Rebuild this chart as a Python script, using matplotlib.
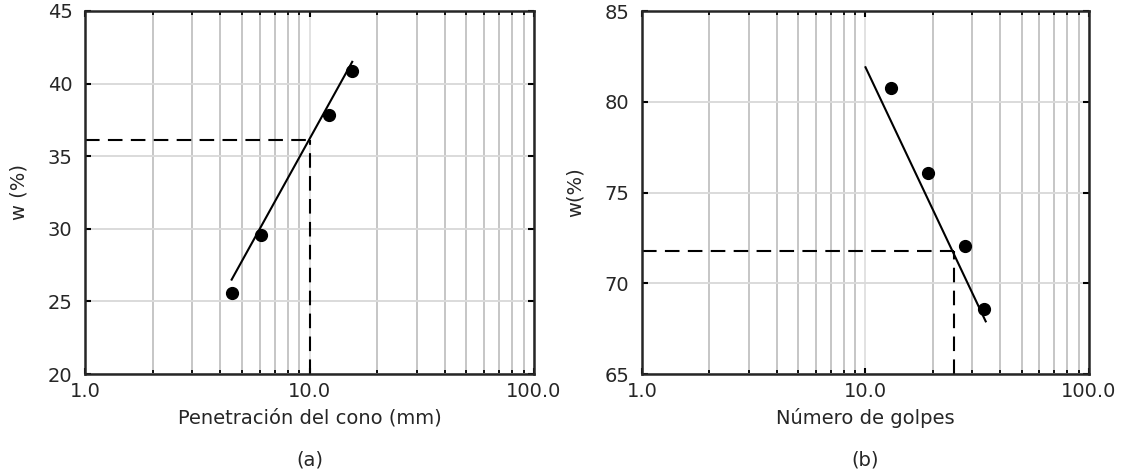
"""Limites de Atterberg: cono (a) y Casagrande (b)"""
import numpy as np
import matplotlib.pyplot as plt
from matplotlib.ticker import FixedLocator, FixedFormatter, LogLocator, NullFormatter

plt.rcParams['font.family'] = ['DejaVu Sans']

# (a) cono
pen_mm = [4.5, 6.1, 12.25, 15.5]
w_cono = [25.6, 29.6, 37.85, 40.85]
fit_a_x = [4.5, 15.5]
fit_a_y = [26.5, 41.5]
ll_a_x = 10.0
ll_a_y = 36.1

# (b) golpes
golpes = [13.0, 19.0, 28.0, 34.0]
w_golpes = [80.75, 76.1, 72.05, 68.6]
fit_b_x = [10.0, 34.5]
fit_b_y = [81.9, 67.9]
ll_b_x = 24.8
ll_b_y = 71.8

xticks = [1, 10, 100]
xtick_labels = ['1.0', '10.0', '100.0']

FS = 14
TXT = '#262626'

fig = plt.figure(figsize=(11.22, 4.73), dpi=100)
ax1 = fig.add_axes([85 / 1122, 1 - 374 / 473, 449 / 1122, 363 / 473])
ax2 = fig.add_axes([642 / 1122, 1 - 374 / 473, 447 / 1122, 363 / 473])


def style(ax, ylim, yticks):
    ax.set_xscale('log')
    ax.set_xlim(1, 100)
    ax.set_ylim(*ylim)
    ax.xaxis.set_major_locator(FixedLocator(xticks))
    ax.xaxis.set_major_formatter(FixedFormatter(xtick_labels))
    ax.xaxis.set_minor_locator(LogLocator(base=10, subs=np.arange(2, 10)))
    ax.xaxis.set_minor_formatter(NullFormatter())
    ax.set_yticks(yticks)
    ax.grid(True, which='minor', axis='x', color='#c6c6c6', linewidth=1.4)
    ax.grid(True, which='major', axis='x', color='#e2e2e2', linewidth=1.4)
    ax.grid(True, which='major', axis='y', color='#dadada', linewidth=1.4)
    ax.set_axisbelow(True)
    ax.tick_params(axis='both', which='major', direction='in', length=4, width=1.5,
                   labelsize=FS, colors='black', labelcolor=TXT,
                   left=True, right=True, bottom=True, top=True, pad=6)
    ax.tick_params(axis='y', which='major', pad=9)
    ax.tick_params(axis='x', which='minor', direction='in', length=3, width=1.3,
                   bottom=True, top=True)
    for sp in ax.spines.values():
        sp.set_linewidth(1.8)
        sp.set_color(TXT)


# plot (a)
style(ax1, (20, 45), [20, 25, 30, 35, 40, 45])
ax1.plot(fit_a_x, fit_a_y, color='black', linewidth=1.5)
ax1.plot(pen_mm, w_cono, 'o', color='black', markersize=8.5)
ax1.plot([1, ll_a_x], [ll_a_y, ll_a_y], color='black', linewidth=1.5, linestyle=(0, (7, 4)))
ax1.plot([ll_a_x, ll_a_x], [20, ll_a_y], color='black', linewidth=1.5, linestyle=(0, (7, 4)))
ax1.set_xlabel('Penetración del cono (mm)', fontsize=FS, color=TXT, labelpad=5)
ax1.set_ylabel('w (%)', fontsize=FS, color=TXT, labelpad=14)
ax1.text(0.5, -0.237, '(a)', transform=ax1.transAxes, ha='center', va='center',
         fontsize=FS, color=TXT)

# plot (b)
style(ax2, (65, 85), [65, 70, 75, 80, 85])
ax2.plot(fit_b_x, fit_b_y, color='black', linewidth=1.5)
ax2.plot(golpes, w_golpes, 'o', color='black', markersize=8.5)
ax2.plot([1, ll_b_x], [ll_b_y, ll_b_y], color='black', linewidth=1.5, linestyle=(0, (7, 4)))
ax2.plot([ll_b_x, ll_b_x], [65, ll_b_y], color='black', linewidth=1.5, linestyle=(0, (7, 4)))
ax2.set_xlabel('Número de golpes', fontsize=FS, color=TXT, labelpad=5)
ax2.set_ylabel('w(%)', fontsize=FS, color=TXT, labelpad=14)
ax2.text(0.5, -0.237, '(b)', transform=ax2.transAxes, ha='center', va='center',
         fontsize=FS, color=TXT)

fig.savefig('out.png', dpi=100)
